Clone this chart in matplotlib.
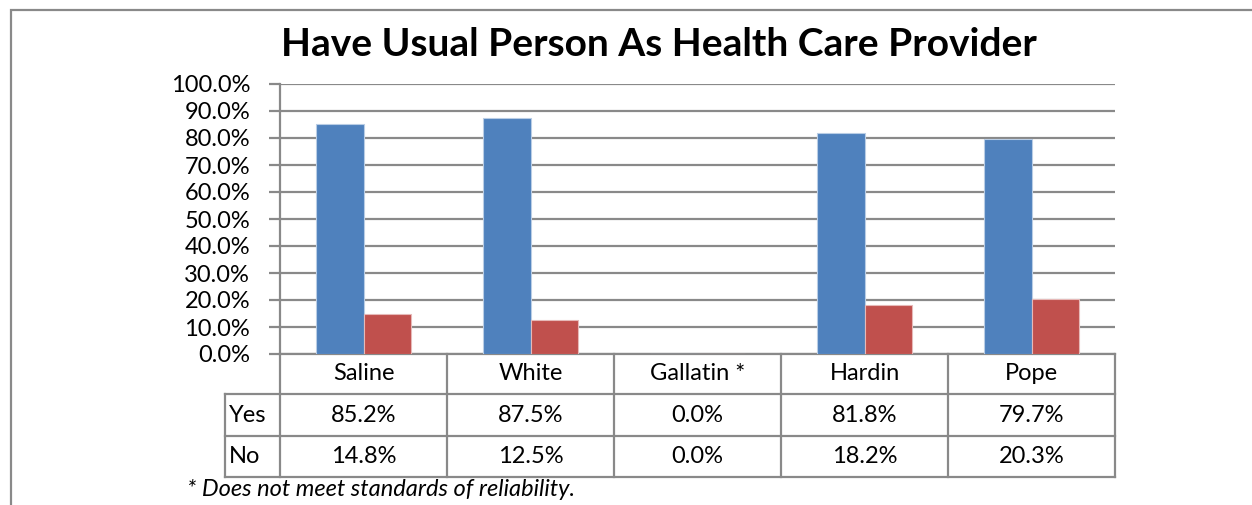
import numpy as np
import matplotlib
matplotlib.use("Agg")
import matplotlib.pyplot as plt
from matplotlib.patches import Rectangle
from matplotlib.transforms import blended_transform_factory

plt.rcParams['font.family'] = ['Lato', 'DejaVu Sans']

counties = ["Saline", "White", "Gallatin *", "Hardin", "Pope"]
yes = [85.2, 87.5, 0.0, 81.8, 79.7]
no = [14.8, 12.5, 0.0, 18.2, 20.3]
row_names = ["Yes", "No"]
yticks = [0, 10, 20, 30, 40, 50, 60, 70, 80, 90, 100]

W, H = 1252, 505
fig = plt.figure(figsize=(W / 100, H / 100), dpi=100)
ax = fig.add_axes([280 / W, 1 - 354 / H, (1115 - 280) / W, (354 - 84) / H])

grey = "#898989"
fs = 17
x = np.arange(len(counties))
bw = 0.285
ax.bar(x - bw / 2, yes, bw, color="#4F81BD", edgecolor="#B9CDE5", linewidth=0.8, zorder=3)
ax.bar(x + bw / 2, no, bw, color="#C0504D", edgecolor="#E6B9B8", linewidth=0.8, zorder=3)

ax.set_xlim(-0.5, len(counties) - 0.5)
ax.set_ylim(0, 100)
ax.set_yticks(yticks)
ax.set_yticklabels([f"{v:.1f}%" for v in yticks], fontsize=fs)
ax.set_xticks([])
ax.yaxis.grid(True, color=grey, linewidth=1.6, zorder=0)
ax.tick_params(axis="y", length=8, width=1.6, color=grey, pad=13.5)
for s in ["top", "right"]:
    ax.spines[s].set_visible(False)
for s in ["left", "bottom"]:
    ax.spines[s].set_color(grey)
    ax.spines[s].set_linewidth(1.6)

# data table under the plot
ph = 354 - 84
rows_y = [0, -40 / ph, -82 / ph, -123 / ph]
lab_x = -(280 - 225) / (1115 - 280)
tr = blended_transform_factory(ax.transData, ax.transAxes)
lkw = dict(color=grey, linewidth=1.6, clip_on=False, solid_capstyle="projecting")
ax.plot([lab_x, 1], [rows_y[1]] * 2, transform=ax.transAxes, **lkw)
ax.plot([lab_x, 1], [rows_y[2]] * 2, transform=ax.transAxes, **lkw)
ax.plot([lab_x, 1], [rows_y[3]] * 2, transform=ax.transAxes, **lkw)
ax.plot([lab_x, lab_x], [rows_y[1], rows_y[3]], transform=ax.transAxes, **lkw)
for b in np.arange(len(counties) + 1) - 0.5:
    ax.plot([b, b], [0, rows_y[3]], transform=tr, **lkw)

tkw = dict(fontsize=fs, ha="center", va="center", transform=tr, clip_on=False)
for i, c in enumerate(counties):
    ax.text(i, (rows_y[0] + rows_y[1]) / 2, c, **tkw)
    ax.text(i, (rows_y[1] + rows_y[2]) / 2, f"{yes[i]:.1f}%", **tkw)
    ax.text(i, (rows_y[2] + rows_y[3]) / 2, f"{no[i]:.1f}%", **tkw)
for r, name in enumerate(row_names):
    ax.text(lab_x + 0.005, (rows_y[r + 1] + rows_y[r + 2]) / 2, name, fontsize=fs,
            ha="left", va="center", transform=ax.transAxes, clip_on=False)

fig.text(187 / W, 1 - 490 / H, "* Does not meet standards of reliability.", fontsize=17,
         style="italic", ha="left", va="center")
fig.text(659 / W, 1 - 44 / H, "Have Usual Person As Health Care Provider", fontsize=28,
         fontweight="bold", ha="center", va="center")

fig.patches.append(Rectangle((11 / W, -0.2), 1.2, 1.2 - 10 / H, transform=fig.transFigure,
                             fill=False, edgecolor=grey, linewidth=1.6))

fig.savefig("out.png", dpi=100)
